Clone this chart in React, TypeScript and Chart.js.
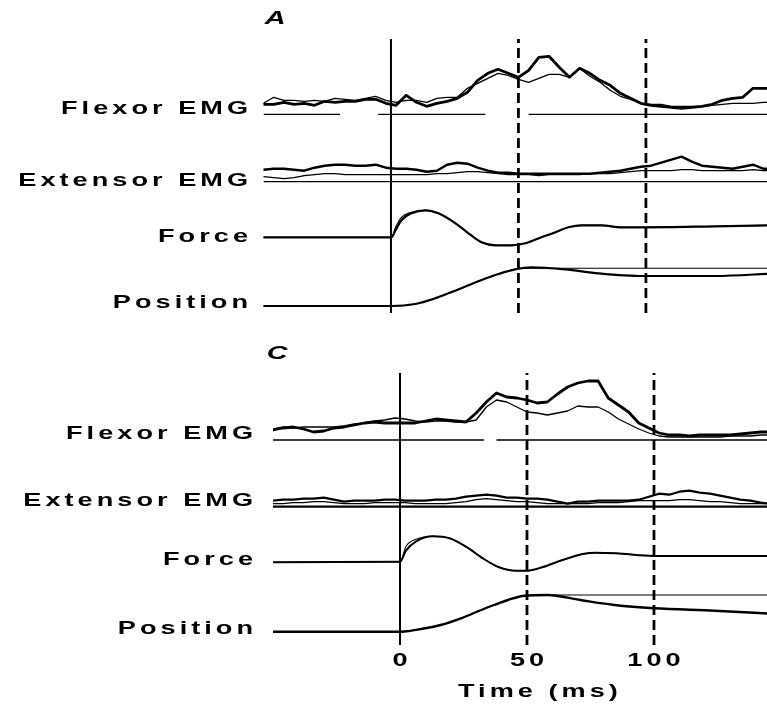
import React, { useEffect, useRef } from "react";
import { Chart, registerables } from "chart.js";

Chart.register(...registerables);

// ---------- text ----------
const FONT = '"Liberation Sans", Arial, "DejaVu Sans", sans-serif';
const ROW_LABELS = ["Flexor EMG", "Extensor EMG", "Force", "Position"];
const TIME_TICKS = [0, 50, 100];
const MARKER_TIMES = [0, 50, 100]; // solid, dashed, dashed
const X_TITLE = "Time (ms)";

// ---------- data (deflection above each trace's own baseline, a.u.; time in ms) ----------
const EMG_T = [-50, -46, -42, -38, -34, -30, -26, -22, -18, -14, -10, -6, -2, 2, 6, 10, 14, 18, 22, 26, 30, 34, 38, 42, 46, 50, 54, 58, 62, 66, 70, 74, 78, 82, 86, 90, 94, 98, 102, 106, 110, 114, 118, 122, 126, 130, 134, 138, 142, 146, 150];

// Panel A
const FLEX_A_THICK = [10, 10, 12, 10, 11, 9, 13, 12, 13, 13, 15, 15, 11, 9, 19, 12, 8, 11, 13, 16, 22, 34, 41, 45, 41, 37, 44, 57, 58, 47, 37, 46, 41, 34, 29, 21, 16, 11, 9, 8, 7, 6, 7, 8, 10, 14, 16, 17, 26, 26, 26];
const FLEX_A_THIN = [11, 17, 14, 14, 13, 14, 13, 16, 15, 14, 16, 18, 14, 12, 14, 14, 12, 16, 17, 17, 26, 31, 36, 41, 39, 35, 32, 36, 40, 40, 37, 46, 38, 32, 24, 18, 15, 11, 10, 10, 8, 8, 8, 8, 9, 10, 11, 11, 11, 12, 12];
const EXT_A_THICK = [12, 13, 13, 12, 11, 14, 16, 17, 17, 16, 16, 17, 14, 13, 13, 12, 10, 11, 17, 19, 18, 14, 11, 9, 9, 8, 8, 8, 8, 8, 8, 8, 8, 9, 10, 11, 13, 15, 16, 19, 22, 25, 20, 16, 15, 14, 13, 15, 17, 13, 13];
const EXT_A_THIN = [5, 4, 3, 4, 6, 7, 8, 8, 7, 7, 7, 7, 7, 7, 7, 7, 7, 8, 8, 9, 10, 10, 9, 8, 7, 7, 7, 6, 7, 7, 7, 7, 8, 8, 8, 9, 10, 11, 11, 11, 11, 12, 12, 11, 11, 11, 11, 11, 12, 11, 11];
const FORCE_A_T = [-50, 0.2, 1.8, 4.1, 8, 13.5, 18.6, 25.3, 30.4, 35.5, 41, 47.3, 52.7, 59, 64.5, 69.6, 74.7, 82.5, 90.4, 99, 127, 150];
const FORCE_A = [0, 0, 7, 17, 24, 27, 24, 14, 4, -5, -8, -8, -6, 0, 5, 10, 12, 12, 10, 10, 11, 12];
const FORCE_A_THIN = [0, 0, 10, 20, 25, 27, 24, 14, 4, -5, -8, -8, -6, 0, 5, 10, 12, 12, 10, 10, 11, 12];
const POS_A_T = [-50, 0.3, 9.5, 17.3, 22.5, 29, 35.6, 42.2, 48.7, 55.2, 68.3, 81.4, 99, 127, 150];
const POS_A = [0, 0, 2, 7.7, 12.7, 19.3, 26, 32, 36.7, 38.7, 36.7, 32.7, 30, 30, 32.5];
const POS_A_THIN = [0, 0, 2, 7.7, 12.7, 19.3, 26, 32, 36.7, 37.7, 37.7, 37.7, 37.7, 37.7, 37.7];

// Panel C
const FLEX_C_THICK = [10, 12, 13, 11, 8, 9, 12, 13, 15, 17, 18, 17, 17, 17, 17, 19, 21, 20, 19, 18, 27, 38, 47, 43, 42, 40, 37, 38, 46, 53, 57, 59, 59, 42, 35, 28, 17, 12, 7, 5, 5, 4, 5, 5, 5, 5, 6, 7, 8, 8, 8];
const FLEX_C_THIN = [11, 13, 12, 13, 13, 13, 13, 14, 16, 17, 19, 20, 22, 21, 19, 18, 19, 19, 18, 18, 20, 33, 40, 38, 33, 28, 27, 25, 27, 29, 34, 33, 33, 28, 21, 16, 11, 7, 4, 3, 3, 3, 3, 3, 3, 4, 4, 4, 5, 5, 5];
const EXT_C_THICK = [6, 7, 7, 8, 8, 9, 7, 5, 6, 6, 6, 7, 7, 6, 6, 6, 7, 7, 8, 10, 11, 12, 11, 9, 9, 8, 8, 7, 5, 3, 5, 5, 6, 6, 6, 6, 7, 10, 13, 12, 15, 16, 14, 13, 11, 9, 7, 6, 4, 3, 3];
const EXT_C_THIN = [3, 3, 4, 4, 5, 5, 4, 3, 3, 3, 4, 4, 4, 4, 3, 3, 3, 3, 4, 5, 7, 8, 7, 6, 5, 5, 4, 3, 3, 3, 3, 3, 4, 4, 4, 5, 6, 6, 6, 6, 7, 7, 6, 5, 5, 4, 3, 3, 3, 3, 3];
const FORCE_C_T = [-50, 0, 2.4, 6.4, 13, 19.5, 26, 32.6, 39, 45.7, 50, 56, 64, 72, 77, 85, 100, 125, 150];
const FORCE_C = [0, 0.5, 12, 21, 26, 24, 15.6, 4, -5, -8.4, -8.4, -5, 2.3, 8.3, 9.6, 9, 6.3, 6.3, 6.3];
const FORCE_C_THIN = [0, 0.5, 16, 23, 26, 24, 15.6, 4, -5, -8.4, -8.4, -5, 2.3, 8.3, 9.6, 9, 6.3, 6.3, 6.3];
const POS_C_T = [-50, 0, 10, 16, 24, 32, 37, 42.5, 49, 58, 71, 84.5, 100, 124, 150];
const POS_C = [0, 0, 3.4, 6.7, 13.4, 21.7, 26.7, 31.7, 36, 36.7, 31.7, 26.7, 23.4, 21, 17.5];
const POS_C_THIN = [0, 0, 3.4, 6.7, 13.4, 21.7, 26.7, 31.7, 36, 36.7, 36.7, 36.7, 36.7, 36.7, 36.7];

// baseline segments (ms)
const FLEX_A_BASE_SEG = [[-50, -20], [-5, 37], [54, 150]];
const EXT_A_BASE_SEG = [[-50, 150]];
const FLEX_C_BASE_SEG = [[-50, 33], [38, 150]];
const EXT_C_BASE_SEG = [[-50, 150]];

// ---------- layout / styles ----------
type Trace = { t: number[]; v: number[]; row: number; w: number; smooth?: boolean };
type Layout = {
  height: number; padTop: number; padBottom: number; xMin: number; xMax: number;
  axisWidth: number; xAxisHeight: number; yMax: number; rowBase: number[]; labelAt: number[];
  markLo: number; markHi: number; letter: string; letterAt: number[]; showX: boolean; labelGap: number;
  titleAt?: number[]; traces: Trace[]; bases: { seg: number[][]; row: number; w: number }[];
};

const TEXT_SIZE = 17.5;
const TEXT_SCALE_X = 1.55; // the figure's lettering is an extended face
const TEXT_SPACING = 2.6; // px before horizontal scaling
const TICK_OFFSET = 13;
const TITLE_OFFSET = 44;

const PANEL_A: Layout = {
  height: 330, padTop: 30, padBottom: 10, xMin: -50, xMax: 147.5, axisWidth: 263.5, xAxisHeight: 0,
  yMax: 290, rowBase: [205.7, 138.3, 82.7, 14], labelAt: [211, 139, 83, 17], markLo: 7, markHi: 281,
  letter: "A", letterAt: [-49.5, 301], showX: false, labelGap: 15.5,
  traces: [
    { t: EMG_T, v: FLEX_A_THIN, row: 0, w: 1.3 },
    { t: EMG_T, v: FLEX_A_THICK, row: 0, w: 2.8 },
    { t: EMG_T, v: EXT_A_THIN, row: 1, w: 1.2 },
    { t: EMG_T, v: EXT_A_THICK, row: 1, w: 2.4 },
    { t: FORCE_A_T, v: FORCE_A_THIN, row: 2, w: 1.1, smooth: true },
    { t: FORCE_A_T, v: FORCE_A, row: 2, w: 2.2, smooth: true },
    { t: POS_A_T, v: POS_A_THIN, row: 3, w: 1.1, smooth: true },
    { t: POS_A_T, v: POS_A, row: 3, w: 2.2, smooth: true },
  ],
  bases: [{ seg: FLEX_A_BASE_SEG, row: 0, w: 1.3 }, { seg: EXT_A_BASE_SEG, row: 1, w: 1.3 }],
};

const PANEL_C: Layout = {
  height: 374, padTop: 35, padBottom: 0, xMin: -50, xMax: 144.5, axisWidth: 273, xAxisHeight: 56,
  yMax: 283, rowBase: [208, 141.3, 85.7, 16.3], labelAt: [214, 147, 88, 19], markLo: 3, markHi: 275,
  letter: "C", letterAt: [-52.5, 294], showX: true, labelGap: 20, titleAt: [54.3],
  traces: [
    { t: EMG_T, v: FLEX_C_THIN, row: 0, w: 1.3 },
    { t: EMG_T, v: FLEX_C_THICK, row: 0, w: 2.8 },
    { t: EMG_T, v: EXT_C_THIN, row: 1, w: 1.2 },
    { t: EMG_T, v: EXT_C_THICK, row: 1, w: 2.2 },
    { t: FORCE_C_T, v: FORCE_C_THIN, row: 2, w: 1.1, smooth: true },
    { t: FORCE_C_T, v: FORCE_C, row: 2, w: 2.0, smooth: true },
    { t: POS_C_T, v: POS_C_THIN, row: 3, w: 1.1, smooth: true },
    { t: POS_C_T, v: POS_C, row: 3, w: 2.4, smooth: true },
  ],
  bases: [{ seg: FLEX_C_BASE_SEG, row: 0, w: 1.3 }, { seg: EXT_C_BASE_SEG, row: 1, w: 2.2 }],
};

// draws extended lettering: horizontally scaled text with a little tracking
function drawWide(ctx: CanvasRenderingContext2D, text: string, x: number, y: number, align: "left" | "right" | "center", font: string, sx: number, spacing: number) {
  ctx.save();
  ctx.font = font;
  (ctx as any).letterSpacing = `${spacing}px`;
  const w = (ctx.measureText(text).width - spacing) * sx;
  const left = align === "left" ? x : align === "right" ? x - w : x - w / 2;
  ctx.translate(left, y);
  ctx.scale(sx, 1);
  ctx.fillStyle = "#000";
  ctx.textAlign = "left";
  ctx.textBaseline = "middle";
  ctx.fillText(text, 0, 0);
  ctx.restore();
}

function buildConfig(L: Layout): any {
  const datasets: any[] = [];
  L.traces.forEach((tr) => {
    datasets.push({
      data: tr.t.map((t, i) => ({ x: t, y: L.rowBase[tr.row] + tr.v[i] })),
      borderColor: "#000", borderWidth: tr.w, pointRadius: 0, fill: false,
      tension: tr.smooth ? 0.4 : 0, cubicInterpolationMode: tr.smooth ? "monotone" : "default",
      borderJoinStyle: "round", borderCapStyle: "round",
    });
  });
  L.bases.forEach((b) => {
    const pts: any[] = [];
    b.seg.forEach(([s, e]) => {
      pts.push({ x: s, y: L.rowBase[b.row] }, { x: e, y: L.rowBase[b.row] }, { x: e + 0.01, y: null });
    });
    datasets.push({ data: pts, borderColor: "#000", borderWidth: b.w, pointRadius: 0, spanGaps: false, tension: 0 });
  });
  MARKER_TIMES.forEach((t, i) => {
    datasets.push({
      data: [{ x: t, y: L.markLo }, { x: t, y: L.markHi }],
      borderColor: "#000", borderWidth: i === 0 ? 2 : 2.8, borderDash: i === 0 ? [] : [10, 5],
      pointRadius: 0, tension: 0,
    });
  });

  const textFont = `bold ${TEXT_SIZE}px ${FONT}`;

  const textPlugin = {
    id: "panelText",
    afterDraw(chart: any) {
      const ctx = chart.ctx as CanvasRenderingContext2D;
      const xs = chart.scales.x;
      const ys = chart.scales.y;
      // panel letter
      drawWide(ctx, L.letter, xs.getPixelForValue(L.letterAt[0]), ys.getPixelForValue(L.letterAt[1]), "left", `italic bold 18px ${FONT}`, 1.6, 0);
      // row labels at the y-axis ticks
      ROW_LABELS.forEach((lab, i) => {
        drawWide(ctx, lab, ys.right - L.labelGap, ys.getPixelForTick(i), "right", textFont, TEXT_SCALE_X, TEXT_SPACING);
      });
      if (L.showX) {
        TIME_TICKS.forEach((v, i) => {
          drawWide(ctx, String(v), xs.getPixelForTick(i), xs.top + TICK_OFFSET, "center", textFont, TEXT_SCALE_X, TEXT_SPACING);
        });
        if (L.titleAt) {
          drawWide(ctx, X_TITLE, xs.getPixelForValue(L.titleAt[0]), xs.top + TITLE_OFFSET, "center", textFont, TEXT_SCALE_X, TEXT_SPACING);
        }
      }
    },
  };

  return {
    type: "line",
    data: { datasets },
    plugins: [textPlugin],
    options: {
      responsive: false,
      animation: false,
      events: [],
      layout: { padding: { top: L.padTop, bottom: L.padBottom, left: 0, right: 0 } },
      plugins: { legend: { display: false }, tooltip: { enabled: false }, title: { display: false } },
      scales: {
        x: {
          type: "linear", min: L.xMin, max: L.xMax, display: L.showX,
          grid: { display: false, drawTicks: false }, border: { display: false },
          ticks: { display: false, autoSkip: false },
          afterBuildTicks: (s: any) => { s.ticks = TIME_TICKS.map((value) => ({ value })); },
          afterFit: (s: any) => { s.height = L.xAxisHeight; },
        },
        y: {
          type: "linear", min: 0, max: L.yMax,
          grid: { display: false, drawTicks: false }, border: { display: false },
          ticks: { display: false, autoSkip: false },
          afterBuildTicks: (s: any) => { s.ticks = L.labelAt.map((value) => ({ value })); },
          afterFit: (s: any) => { s.width = L.axisWidth; },
        },
      },
    },
  };
}

function Panel({ layout }: { layout: Layout }) {
  const ref = useRef<HTMLCanvasElement | null>(null);
  useEffect(() => {
    if (!ref.current) return;
    const chart = new Chart(ref.current, buildConfig(layout));
    return () => chart.destroy();
  }, [layout]);
  return <canvas ref={ref} width={767} height={layout.height} style={{ display: "block", width: 767, height: layout.height }} />;
}

export default function App() {
  return (
    <div style={{ position: "absolute", left: 0, top: 0, width: 767, height: 704, background: "#fff" }}>
      <Panel layout={PANEL_A} />
      <Panel layout={PANEL_C} />
    </div>
  );
}
